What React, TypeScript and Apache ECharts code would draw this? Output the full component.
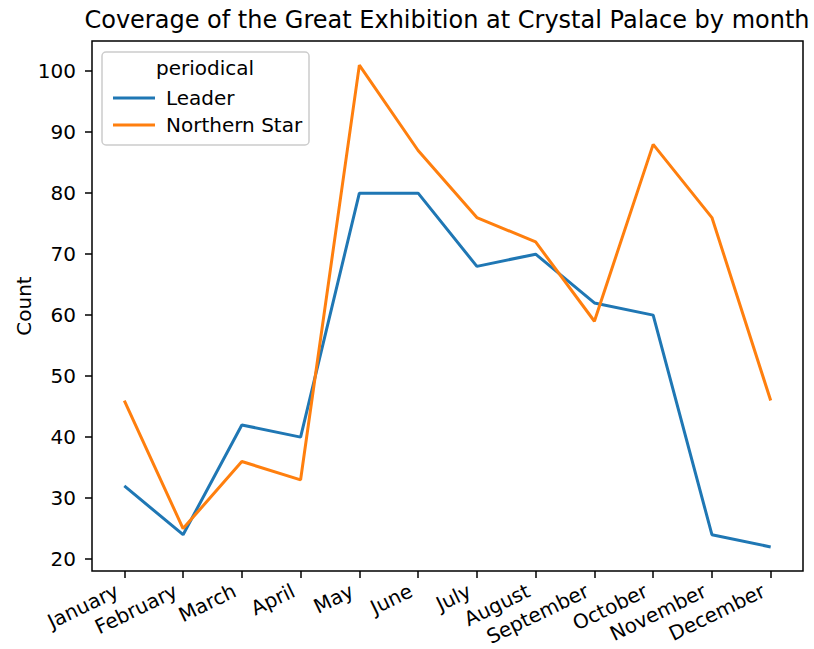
import React, { useEffect, useRef } from "react";
import * as echarts from "echarts";

const months = ["January", "February", "March", "April", "May", "June", "July", "August", "September", "October", "November", "December"];
const leader = [32, 24, 42, 40, 80, 80, 68, 70, 62, 60, 24, 22];
const northernStar = [46, 25, 36, 33, 101, 87, 76, 72, 59, 88, 76, 46];
const yTicks = [20, 30, 40, 50, 60, 70, 80, 90, 100];
const seriesNames = ["Leader", "Northern Star"];
const legendTitle = "periodical";
const chartTitle = "Coverage of the Great Exhibition at Crystal Palace by month";

const FONT = "DejaVu Sans";

export default function App() {
  const ref = useRef<HTMLDivElement>(null);
  useEffect(() => {
    if (!ref.current) return;
    const chart = echarts.init(ref.current, null, { renderer: "svg" });
    const xIdx = months.map((_, i) => i);
    chart.setOption({
      animation: false,
      backgroundColor: "#fff",
      textStyle: { fontFamily: FONT },
      grid: {
        left: 92, right: 11, top: 41, bottom: 78,
        outerBoundsMode: "none",
        containLabel: false,
        show: true, borderColor: "#000", borderWidth: 1.5, backgroundColor: "transparent",
      },
      graphic: [
        { type: "text", x: 447, y: 8, style: { text: chartTitle, fontSize: 24, fontFamily: FONT, fill: "#000", textAlign: "center" } },
        { type: "rect", shape: { x: 102, y: 52, width: 207, height: 93, r: 4 }, style: { fill: "rgba(255,255,255,0.8)", stroke: "#cccccc", lineWidth: 1.5 }, z: 5 },
        { type: "text", x: 205, y: 58, style: { text: legendTitle, fontSize: 20, fontFamily: FONT, fill: "#000", textAlign: "center" }, z: 6 },
      ],
      legend: {
        orient: "vertical",
        left: 108,
        top: 83,
        icon: "rect",
        itemWidth: 42,
        itemHeight: 3,
        itemGap: 7,
        z: 10,
        textStyle: { fontSize: 20, fontFamily: FONT, color: "#000", padding: [0, 0, 0, 6] },
        data: seriesNames,
      },
      xAxis: {
        type: "value",
        min: -0.55,
        max: 11.55,
        axisLine: { show: false, onZero: false },
        splitLine: { show: false },
        axisTick: { show: true, length: 7, lineStyle: { color: "#000", width: 1.5 }, customValues: xIdx },
        axisLabel: {
          customValues: xIdx,
          rotate: 26,
          margin: 15,
          padding: [0, 8, 0, 0],
          fontSize: 20,
          fontFamily: FONT,
          color: "#000",
          formatter: (v: number) => months[Math.round(v)] ?? "",
        },
      },
      yAxis: {
        type: "value",
        min: 18.05,
        max: 104.95,
        name: "Count",
        nameLocation: "middle",
        nameRotate: 90,
        nameGap: 58,
        nameMoveOverlap: false,
        nameTextStyle: { fontSize: 20, fontFamily: FONT, color: "#000" },
        axisLine: { show: false, onZero: false },
        splitLine: { show: false },
        axisTick: { show: true, length: 7, lineStyle: { color: "#000", width: 1.5 }, customValues: yTicks },
        axisLabel: { customValues: yTicks, margin: 16, fontSize: 20, fontFamily: FONT, color: "#000" },
      },
      series: [
        {
          name: seriesNames[0],
          type: "line",
          symbol: "none",
          data: leader.map((v, i) => [i, v]),
          lineStyle: { color: "#1f77b4", width: 3 },
          itemStyle: { color: "#1f77b4" },
        },
        {
          name: seriesNames[1],
          type: "line",
          symbol: "none",
          data: northernStar.map((v, i) => [i, v]),
          lineStyle: { color: "#ff7f0e", width: 3 },
          itemStyle: { color: "#ff7f0e" },
        },
      ],
    });
    return () => chart.dispose();
  }, []);
  return <div ref={ref} style={{ width: 814, height: 649, position: "absolute", left: 0, top: 0 }} />;
}
